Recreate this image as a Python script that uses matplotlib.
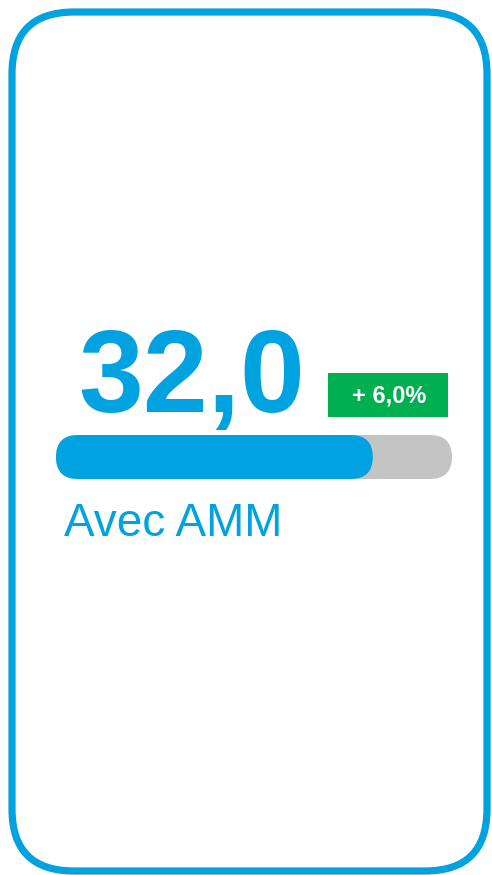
import matplotlib
matplotlib.use("Agg")
import matplotlib.pyplot as plt
from matplotlib.patches import FancyBboxPatch

# data
value = 32.0
value_max = 40.0
value_label = "32,0"
change_label = "+ 6,0%"
category = "Avec AMM"

blue = "#00A3E0"
grey = "#C4C4C4"
green = "#00B050"

plt.rcParams['font.family'] = ['Liberation Sans', 'DejaVu Sans']

W, H = 492, 875
fig = plt.figure(figsize=(W / 100, H / 100), dpi=100)

# background axes in pixel coordinates
ax = fig.add_axes([0, 0, 1, 1])
ax.set_xlim(0, W)
ax.set_ylim(H, 0)
ax.axis("off")

# card border
card = FancyBboxPatch((12, 12), 475, 859, boxstyle="round,pad=0,rounding_size=62",
                      fill=False, edgecolor=blue, linewidth=5.2)
ax.add_patch(card)

# big number
ax.text(78, 412, value_label, color=blue, fontsize=84, fontweight="bold",
        ha="left", va="baseline")

# change badge
badge = FancyBboxPatch((328, 373), 120, 44, boxstyle="square,pad=0",
                       facecolor=green, edgecolor="none")
ax.add_patch(badge)
ax.text(389, 396, change_label, color="white", fontsize=17, fontweight="bold",
        ha="center", va="center")

# label
ax.text(64, 536, category, color=blue, fontsize=33, ha="left", va="baseline")

# progress bar axes: x scale is the value scale
bx0, bx1, by0, by1 = 56, 452, 435, 479
bax = fig.add_axes([bx0 / W, 1 - by1 / H, (bx1 - bx0) / W, (by1 - by0) / H])
bax.set_xlim(0, value_max)
bax.set_ylim(0, 1)
bax.axis("off")

px_per_x = (bx1 - bx0) / value_max
px_per_y = (by1 - by0)
r = (by1 - by0) / 2 / px_per_x
aspect = px_per_x / px_per_y

track = FancyBboxPatch((0, 0), value_max, 1, boxstyle=f"round,pad=0,rounding_size={r}",
                       mutation_aspect=aspect, facecolor=grey, edgecolor="none")
bax.add_patch(track)
fill = FancyBboxPatch((0, 0), value, 1, boxstyle=f"round,pad=0,rounding_size={r}",
                      mutation_aspect=aspect, facecolor=blue, edgecolor="none")
bax.add_patch(fill)

fig.savefig("out.png", dpi=100)
